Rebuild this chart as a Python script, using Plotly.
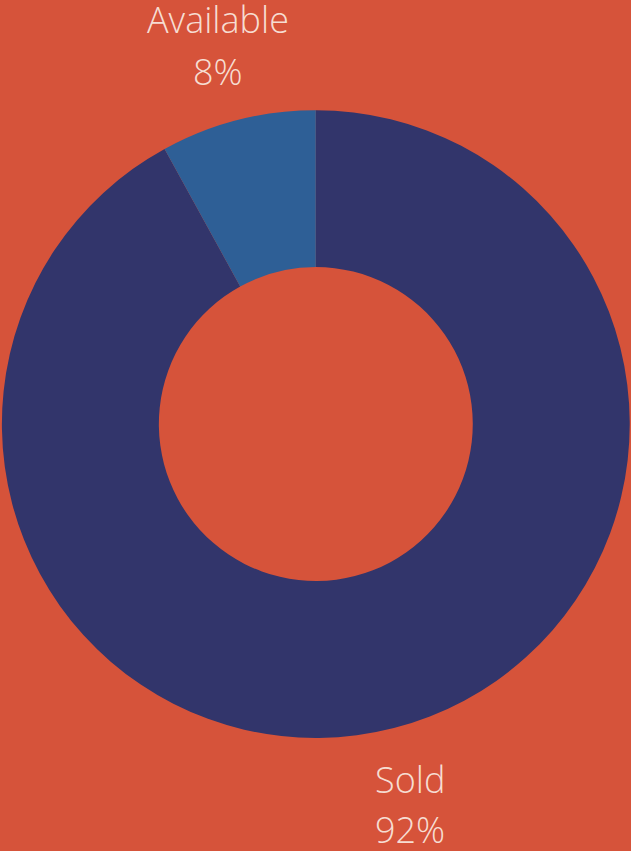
import plotly.graph_objects as go

labels = ["Sold", "Available"]
values = [92, 8]
colors = ["#32356B", "#2E5F96"]
label_x = [0.650, 0.346]
label_y_name = [0.0846, 0.9767]
label_y_pct = [0.0257, 0.9154]

W, H = 631, 851
BG = "#D6533A"
TXT = "#F6DDD2"

fig = go.Figure()
fig.add_trace(go.Pie(
    labels=labels, values=values, hole=0.5, sort=False,
    direction="clockwise", rotation=0,
    marker=dict(colors=colors, line=dict(width=0)),
    textinfo="none", hoverinfo="label+percent", showlegend=False,
    domain=dict(x=[0.003, 0.998], y=[0.1327, 0.8707]),
))

total = sum(values)
for lab, v, x, yn, yp in zip(labels, values, label_x, label_y_name, label_y_pct):
    pct = f"{round(v / total * 100)}%"
    for txt, y in ((lab, yn), (pct, yp)):
        fig.add_annotation(text=txt, x=x, y=y, xref="paper", yref="paper",
                           xanchor="center", yanchor="middle", showarrow=False,
                           font=dict(family="Open Sans", size=36, color=TXT, weight=300))

fig.update_layout(width=W, height=H, margin=dict(l=0, r=0, t=0, b=0),
                  paper_bgcolor=BG, plot_bgcolor=BG)
fig.write_html("out.html", config={"displayModeBar": False},
               post_script="document.body.style.margin='0';document.body.style.overflow='hidden';")
